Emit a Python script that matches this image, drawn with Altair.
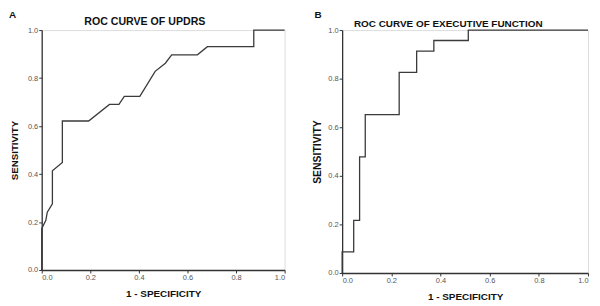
import altair as alt
import pandas as pd

# Panel A: ROC curve of UPDRS
a_fpr = [0.0, 0.0, 0.017, 0.023, 0.044, 0.044, 0.085, 0.085, 0.193, 0.279, 0.318,
         0.340, 0.404, 0.467, 0.509, 0.535, 0.641, 0.682, 0.873, 0.873, 1.0]
a_tpr = [0.0, 0.172, 0.207, 0.241, 0.276, 0.414, 0.448, 0.621, 0.621, 0.690, 0.690,
         0.724, 0.724, 0.828, 0.862, 0.897, 0.897, 0.931, 0.931, 1.0, 1.0]

# Panel B: ROC curve of executive function
b_fpr = [0.0, 0.0, 0.047, 0.047, 0.071, 0.071, 0.094, 0.094, 0.232, 0.232, 0.303,
         0.303, 0.373, 0.373, 0.513, 0.513, 1.0]
b_tpr = [0.0, 0.087, 0.087, 0.217, 0.217, 0.478, 0.478, 0.652, 0.652, 0.826, 0.826,
         0.913, 0.913, 0.957, 0.957, 1.0, 1.0]

ticks = [0.0, 0.2, 0.4, 0.6, 0.8, 1.0]
FONT = "Liberation Sans"


def panel(fpr, tpr, title, letter, w, h, letter_x, title_x, title_y,
          title_size, ytitle_pad, ytitle_size):
    df = pd.DataFrame({"fpr": fpr, "tpr": tpr, "i": list(range(len(fpr)))})
    line = alt.Chart(df).mark_line(color="#3a3a3a", strokeWidth=1.3).encode(
        x=alt.X("fpr:Q", title="1 - SPECIFICITY",
                scale=alt.Scale(domain=[0, 1], nice=False),
                axis=alt.Axis(values=ticks, format=".1f", grid=False,
                              labelFontSize=7.5, labelColor="#555", labelFont=FONT,
                              tickSize=3, tickColor="#333", domainColor="#333",
                              domainWidth=1.3, titleFont=FONT, titleFontSize=10,
                              titleFontWeight="bold", titleColor="#111",
                              titlePadding=7, labelPadding=1)),
        y=alt.Y("tpr:Q", title="SENSITIVITY",
                scale=alt.Scale(domain=[0, 1], nice=False),
                axis=alt.Axis(values=ticks, format=".1f", grid=False,
                              labelFontSize=7.5, labelColor="#555", labelFont=FONT,
                              tickSize=3, tickColor="#333", domainColor="#333",
                              domainWidth=1.3, titleFont=FONT, titleFontSize=ytitle_size,
                              titleFontWeight="bold", titleColor="#111",
                              titlePadding=ytitle_pad, labelPadding=1)),
        order="i:Q",
    )
    lab = alt.Chart(pd.DataFrame({"t": [letter]})).mark_text(
        font=FONT, fontSize=10, fontWeight="bold", color="#111",
        align="left", baseline="top",
    ).encode(text="t:N", x=alt.value(letter_x), y=alt.value(-20))
    ttl = alt.Chart(pd.DataFrame({"t": [title]})).mark_text(
        font=FONT, fontSize=title_size, fontWeight="bold", color="#111",
        align="center", baseline="middle",
    ).encode(text="t:N", x=alt.value(title_x), y=alt.value(title_y))
    return alt.layer(line, lab, ttl).properties(width=w, height=h)


chart = alt.hconcat(
    panel(a_fpr, a_tpr, "ROC CURVE OF UPDRS", "A", 245, 242,
          -33, 104, -8, 10.7, 8, 9.8),
    panel(b_fpr, b_tpr, "ROC CURVE OF EXECUTIVE FUNCTION", "B", 248, 245,
          -28, 107, -6, 10, 5, 10.5),
    spacing=24,
    padding=0,
).configure_view(stroke="#777", strokeWidth=1.2).configure(background="white")

chart.save("out.html", embed_options={"renderer": "svg", "actions": False})
